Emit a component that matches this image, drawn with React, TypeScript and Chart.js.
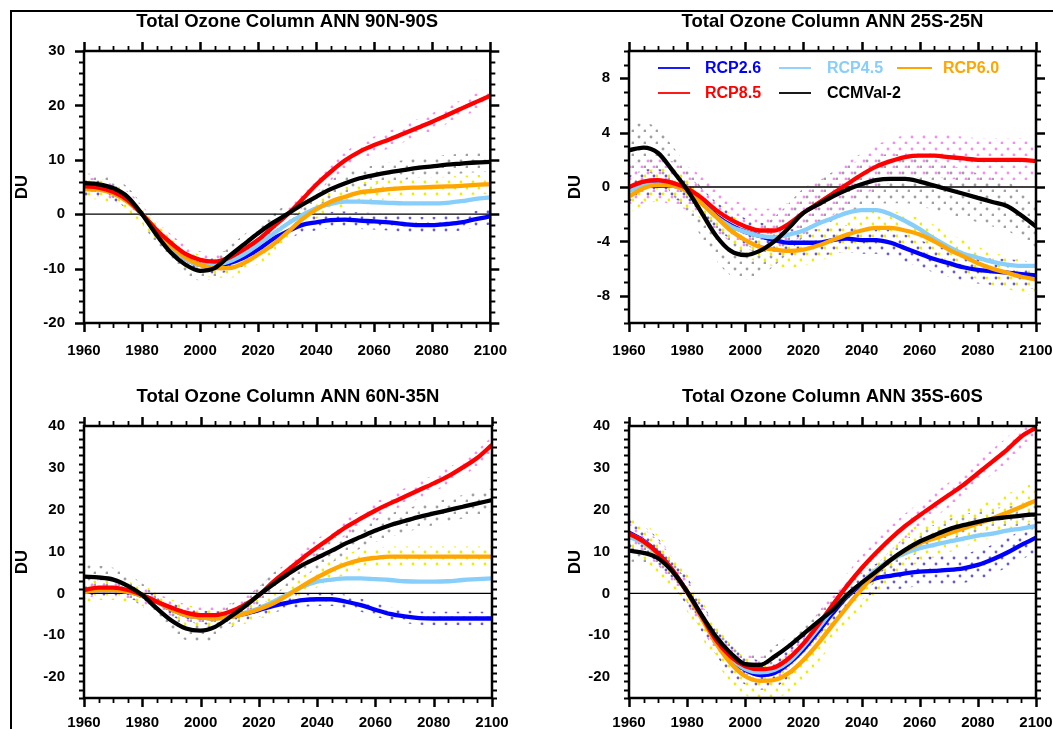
import React, { useEffect, useRef } from "react";
import { Chart, registerables } from "chart.js";
Chart.register(...registerables);

const FONT = '"Liberation Sans", Arial, Helvetica, sans-serif';

// ---------- data ----------
const years = [1960, 1965, 1970, 1975, 1980, 1985, 1990, 1995, 2000, 2005, 2010, 2015, 2020, 2025, 2030,
  2035, 2040, 2045, 2050, 2055, 2060, 2065, 2070, 2075, 2080, 2085, 2090, 2095, 2100];
const xTickLabels = [1960, 1980, 2000, 2020, 2040, 2060, 2080, 2100];

const seriesNames = ["RCP2.6", "RCP4.5", "RCP6.0", "RCP8.5", "CCMVal-2"];
const lineColors = ["#0000ff", "#87cefa", "#ffa500", "#ff0000", "#000000"];
const dotColors = ["#6a5acd", "", "#eeee00", "#f290ee", "#a0a0a0"];

// 90N-90S
const glob_rcp26 = [4.8, 4.7, 4.0, 2.4, 0, -3.0, -6.0, -8.2, -9.3, -9.5, -9.0, -8.0, -6.5, -4.6, -3.2, -2.0, -1.5, -1.1, -1.0, -1.2, -1.3, -1.5, -1.8, -2.0, -2.0, -1.8, -1.5, -0.9, -0.4];
const glob_rcp45 = [4.8, 4.7, 4.0, 2.4, 0, -3.0, -6.0, -8.2, -9.3, -9.3, -8.7, -7.4, -5.6, -3.7, -1.8, -0.2, 1.1, 1.9, 2.3, 2.3, 2.2, 2.1, 2.0, 2.0, 2.0, 2.1, 2.4, 2.8, 3.1];
const glob_rcp60 = [4.6, 4.5, 3.8, 2.3, 0, -2.9, -5.9, -8.0, -9.3, -9.9, -9.9, -9.0, -7.4, -5.6, -3.4, -1.0, 0.9, 2.3, 3.2, 4.0, 4.3, 4.6, 4.8, 4.9, 5.0, 5.1, 5.2, 5.4, 5.5];
const glob_rcp85 = [5.1, 4.9, 4.1, 2.6, 0, -2.9, -5.3, -7.3, -8.4, -8.7, -8.0, -6.5, -4.7, -2.4, -0.1, 2.6, 5.4, 7.8, 9.9, 11.5, 12.7, 13.7, 14.8, 15.9, 17.0, 18.2, 19.4, 20.6, 21.8];
const glob_ccmval = [5.7, 5.5, 4.8, 3.2, 0, -3.8, -7.1, -9.3, -10.4, -9.9, -7.7, -5.6, -3.5, -1.6, 0, 1.7, 3.2, 4.6, 5.7, 6.6, 7.2, 7.7, 8.1, 8.5, 8.8, 9.1, 9.3, 9.5, 9.6];
const glob_spread = [1.5, 0, 1.8, 1.6, 1.8];
const glob_yTicks = [-20, -10, 0, 10, 20, 30];

// 25S-25N
const trop_rcp26 = [-0.2, 0.3, 0.3, 0.1, -0.2, -1.1, -2.1, -2.8, -3.3, -3.6, -3.9, -4.1, -4.1, -4.1, -3.9, -3.8, -3.9, -3.9, -4.1, -4.5, -4.9, -5.3, -5.6, -5.9, -6.1, -6.2, -6.3, -6.4, -6.5];
const trop_rcp45 = [-0.3, 0.1, 0.2, 0.1, -0.3, -1.2, -2.2, -2.9, -3.3, -3.6, -3.7, -3.5, -3.2, -2.7, -2.3, -1.9, -1.7, -1.7, -2.0, -2.5, -3.1, -3.8, -4.4, -4.9, -5.2, -5.5, -5.7, -5.8, -5.8];
const trop_rcp60 = [-0.7, -0.1, 0.15, 0.1, -0.3, -1.2, -2.2, -3.2, -3.9, -4.4, -4.6, -4.7, -4.6, -4.3, -3.9, -3.5, -3.2, -3.0, -3.0, -3.2, -3.5, -4.0, -4.6, -5.1, -5.6, -6.0, -6.3, -6.6, -6.8];
const trop_rcp85 = [0, 0.4, 0.5, 0.3, -0.1, -0.8, -1.7, -2.4, -2.9, -3.2, -3.2, -2.7, -1.9, -1.2, -0.5, 0.2, 0.9, 1.5, 1.9, 2.2, 2.3, 2.3, 2.2, 2.1, 2.0, 2.0, 2.0, 2.0, 1.9];
const trop_ccmval = [2.7, 2.9, 2.5, 1.2, -0.2, -1.9, -3.6, -4.7, -5.0, -4.7, -4.0, -3.0, -1.9, -1.3, -0.7, -0.2, 0.2, 0.5, 0.6, 0.6, 0.4, 0.1, -0.2, -0.5, -0.8, -1.1, -1.4, -2.1, -2.9];
const trop_spread = [1.0, 0, 1.2, 1.6, 1.8];
const trop_yTicks = [-8, -4, 0, 4, 8];

// 60N-35N
const nmid_rcp26 = [0.4, 0.8, 0.8, 0.4, -0.6, -2.0, -3.8, -5.2, -5.7, -5.9, -5.6, -4.9, -4.0, -3.0, -2.2, -1.6, -1.4, -1.4, -2.0, -2.8, -3.9, -4.9, -5.5, -5.9, -6.0, -6.0, -6.0, -6.0, -6.0];
const nmid_rcp45 = [0.4, 0.8, 0.8, 0.4, -0.6, -2.0, -3.8, -5.2, -5.7, -5.9, -5.6, -4.7, -3.6, -2.0, -0.2, 1.6, 2.8, 3.3, 3.6, 3.6, 3.4, 3.2, 2.9, 2.8, 2.8, 2.9, 3.2, 3.4, 3.6];
const nmid_rcp60 = [0.4, 0.8, 0.8, 0.4, -0.6, -2.0, -3.8, -5.2, -5.7, -6.0, -5.7, -4.9, -3.8, -2.4, -0.4, 1.8, 3.8, 5.6, 7.0, 8.0, 8.5, 8.8, 8.8, 8.8, 8.8, 8.8, 8.8, 8.8, 8.8];
const nmid_rcp85 = [0.8, 1.4, 1.4, 0.8, -0.4, -2.0, -3.4, -4.6, -5.2, -5.2, -4.4, -2.8, -0.4, 2.8, 5.6, 8.4, 11.0, 13.5, 15.9, 17.9, 19.8, 21.5, 23.1, 24.7, 26.3, 28.0, 30.1, 32.4, 35.5];
const nmid_ccmval = [4.0, 3.8, 3.3, 1.8, -0.4, -3.6, -6.5, -8.4, -8.9, -8.0, -5.7, -3.2, -0.4, 2.2, 4.6, 6.8, 8.5, 10.2, 12.0, 13.5, 15.0, 16.3, 17.3, 18.3, 19.1, 19.9, 20.7, 21.5, 22.3];
const nmid_spread = [1.6, 0, 2.4, 2.0, 2.8];
const nmid_yTicks = [-20, -10, 0, 10, 20, 30, 40];

// 35S-60S
const smid_rcp26 = [14.5, 12.6, 9.6, 5.4, 0.4, -5.6, -11.3, -15.7, -18.3, -19.5, -19.0, -16.7, -13.4, -9.2, -4.8, -0.8, 2.0, 3.6, 4.2, 4.8, 5.2, 5.4, 5.6, 6.0, 6.8, 8.1, 9.7, 11.6, 13.3];
const smid_rcp45 = [13.5, 12.0, 9.3, 5.3, 0.4, -5.4, -11.2, -15.5, -18.1, -18.9, -18.3, -16.3, -12.7, -8.4, -4.0, -0.4, 2.5, 5.6, 8.0, 9.6, 10.8, 11.6, 12.4, 13.1, 13.8, 14.3, 15.0, 15.5, 16.1];
const smid_rcp60 = [14.2, 12.4, 9.4, 5.2, 0.2, -6.0, -12.0, -16.7, -19.8, -20.9, -20.7, -19.0, -15.9, -12.0, -7.6, -3.2, 1.0, 4.8, 8.0, 10.2, 12.0, 13.1, 14.3, 15.5, 16.7, 17.9, 19.3, 20.7, 22.2];
const smid_rcp85 = [14.3, 12.4, 9.6, 5.6, 0.4, -5.4, -11.2, -15.1, -17.4, -18.1, -17.7, -15.5, -12.0, -7.6, -2.8, 1.8, 6.0, 9.7, 13.1, 16.1, 18.7, 21.1, 23.5, 25.9, 28.7, 31.5, 34.3, 37.5, 39.6];
const smid_ccmval = [10.2, 9.7, 8.4, 5.2, 0.4, -5.2, -10.4, -14.3, -16.9, -17.1, -15.1, -12.6, -9.7, -6.8, -4.0, -0.4, 2.5, 5.2, 8.0, 10.4, 12.4, 13.9, 15.3, 16.3, 17.1, 17.8, 18.2, 18.6, 18.9];
const smid_spread = [3.5, 0, 4.5, 3.0, 2.5];
const smid_yTicks = [-20, -10, 0, 10, 20, 30, 40];

// ---------- layout ----------
type Panel = {
  title: string;
  values: number[][];
  spread: number[];
  yMin: number; yMax: number; yTicks: number[]; yMinor: number;
  rect: { x: number; y: number; w: number; h: number };
  area: { L: number; T: number; R: number; B: number };
  duX: number;
  xPad: number;
  legend: boolean;
};

const panels: Panel[] = [
  {
    title: "Total Ozone Column ANN 90N-90S",
    values: [glob_rcp26, glob_rcp45, glob_rcp60, glob_rcp85, glob_ccmval], spread: glob_spread,
    yMin: -20, yMax: 30, yTicks: glob_yTicks, yMinor: 2,
    rect: { x: 0, y: 0, w: 526, h: 370 }, area: { L: 84, T: 51, R: 492, B: 323 }, duX: 22, xPad: 19, legend: false,
  },
  {
    title: "Total Ozone Column ANN 25S-25N",
    values: [trop_rcp26, trop_rcp45, trop_rcp60, trop_rcp85, trop_ccmval], spread: trop_spread,
    yMin: -10, yMax: 10, yTicks: trop_yTicks, yMinor: 1,
    rect: { x: 526, y: 0, w: 560, h: 370 }, area: { L: 629, T: 51, R: 1036, B: 323 }, duX: 575, xPad: 19, legend: true,
  },
  {
    title: "Total Ozone Column ANN 60N-35N",
    values: [nmid_rcp26, nmid_rcp45, nmid_rcp60, nmid_rcp85, nmid_ccmval], spread: nmid_spread,
    yMin: -25, yMax: 40, yTicks: nmid_yTicks, yMinor: 2,
    rect: { x: 0, y: 370, w: 526, h: 380 }, area: { L: 84, T: 426, R: 492, B: 698 }, duX: 22, xPad: 16, legend: false,
  },
  {
    title: "Total Ozone Column ANN 35S-60S",
    values: [smid_rcp26, smid_rcp45, smid_rcp60, smid_rcp85, smid_ccmval], spread: smid_spread,
    yMin: -25, yMax: 40, yTicks: smid_yTicks, yMinor: 2,
    rect: { x: 526, y: 370, w: 560, h: 380 }, area: { L: 629, T: 426, R: 1036, B: 698 }, duX: 575, xPad: 16, legend: false,
  },
];

const YW = 60;
const XH = 40;
const patternOffsets = [[2, 2], [0, 0], [5, 2], [2, 5], [5, 5]];

function makePattern(color: string, ox: number, oy: number): CanvasPattern | string {
  const c = document.createElement("canvas");
  c.width = 12;
  c.height = 12;
  const g = c.getContext("2d");
  if (!g) return color;
  g.fillStyle = color;
  for (const [x, y] of [[ox, oy], [ox + 6, oy + 6]]) {
    g.beginPath();
    g.arc(x, y, 1.45, 0, Math.PI * 2);
    g.fill();
  }
  return g.createPattern(c, "repeat") || color;
}

function PanelChart({ p }: { p: Panel }) {
  const ref = useRef<HTMLCanvasElement | null>(null);
  useEffect(() => {
    if (!ref.current) return;
    const lineOrder = [4, 3, 2, 1, 0];
    const datasets: any[] = lineOrder.map((i) => ({
      label: seriesNames[i],
      data: years.map((x, k) => ({ x, y: p.values[i][k] })),
      borderColor: lineColors[i],
      borderWidth: 4.3,
      pointRadius: 0,
      fill: false,
      cubicInterpolationMode: "monotone",
    }));
    for (const i of [4, 3, 2, 0]) {
      const s = p.spread[i];
      if (!s) continue;
      datasets.push({
        label: seriesNames[i] + " low",
        data: years.map((x, k) => ({ x, y: p.values[i][k] - s })),
        borderWidth: 0, pointRadius: 0, fill: false, cubicInterpolationMode: "monotone",
      });
      datasets.push({
        label: seriesNames[i] + " high",
        data: years.map((x, k) => ({ x, y: p.values[i][k] + s })),
        borderWidth: 0, pointRadius: 0, fill: "-1", cubicInterpolationMode: "monotone",
        backgroundColor: makePattern(dotColors[i], patternOffsets[i][0], patternOffsets[i][1]),
      });
    }

    const deco = {
      id: "deco",
      beforeDatasetsDraw(chart: any) {
        const { ctx, chartArea: a, scales } = chart;
        const y0 = scales.y.getPixelForValue(0);
        ctx.save();
        ctx.strokeStyle = "#000";
        ctx.lineWidth = 1.3;
        ctx.beginPath();
        ctx.moveTo(a.left, y0);
        ctx.lineTo(a.right, y0);
        ctx.stroke();
        ctx.restore();
      },
      afterDraw(chart: any) {
        const { ctx, chartArea: a, scales } = chart;
        const xs = scales.x, ys = scales.y;
        ctx.save();
        ctx.strokeStyle = "#000";
        ctx.fillStyle = "#000";
        ctx.lineCap = "butt";
        // x ticks
        for (let k = 0; k <= 28; k++) {
          const v = 1960 + k * 5;
          const px = Math.round(xs.getPixelForValue(v)) + 0.5;
          const major = v % 20 === 0;
          const len = major ? 9 : 5;
          ctx.lineWidth = major ? 2.5 : 1.8;
          ctx.beginPath();
          ctx.moveTo(px, a.bottom); ctx.lineTo(px, a.bottom + len);
          ctx.moveTo(px, a.top); ctx.lineTo(px, a.top - len);
          ctx.stroke();
        }
        // y ticks
        const n = Math.round((p.yMax - p.yMin) / p.yMinor);
        for (let k = 0; k <= n; k++) {
          const v = p.yMin + k * p.yMinor;
          const py = Math.round(ys.getPixelForValue(v)) + 0.5;
          const major = p.yTicks.includes(v);
          const len = major ? 9 : 5;
          ctx.lineWidth = major ? 2.5 : 1.8;
          ctx.beginPath();
          ctx.moveTo(a.left, py); ctx.lineTo(a.left - len, py);
          ctx.moveTo(a.right, py); ctx.lineTo(a.right + len, py);
          ctx.stroke();
        }
        // frame
        ctx.lineWidth = 2.5;
        ctx.strokeRect(a.left, a.top, a.right - a.left, a.bottom - a.top);
        // title
        ctx.font = `bold 18.5px ${FONT}`;
        ctx.textAlign = "center";
        ctx.textBaseline = "middle";
        ctx.fillText(p.title, (a.left + a.right) / 2, a.top - 29);
        // DU
        ctx.save();
        ctx.translate(p.duX - p.rect.x, (a.top + a.bottom) / 2);
        ctx.rotate(-Math.PI / 2);
        ctx.font = `bold 16.5px ${FONT}`;
        ctx.fillText("DU", 0, 0);
        ctx.restore();
        // legend
        if (p.legend) {
          const cols = [[29, 61, 76], [150, 182, 198], [268, 303, 314]];
          const items = [[0, 0, 0], [1, 0, 1], [2, 0, 2], [3, 1, 0], [4, 1, 1]];
          ctx.font = `bold 16px ${FONT}`;
          ctx.textAlign = "left";
          ctx.textBaseline = "middle";
          for (const [si, row, col] of items) {
            const yy = a.top + 17 + row * 25;
            const c = cols[col];
            ctx.strokeStyle = lineColors[si];
            ctx.lineWidth = 1.8;
            ctx.beginPath();
            ctx.moveTo(a.left + c[0], yy);
            ctx.lineTo(a.left + c[1], yy);
            ctx.stroke();
            ctx.fillStyle = lineColors[si];
            ctx.fillText(seriesNames[si], a.left + c[2], yy + 1);
          }
        }
        ctx.restore();
      },
    };

    const chart = new Chart(ref.current, {
      type: "line",
      data: { datasets },
      options: {
        responsive: false,
        maintainAspectRatio: false,
        animation: false,
        layout: {
          padding: {
            left: p.area.L - p.rect.x - YW,
            top: p.area.T - p.rect.y,
            right: p.rect.x + p.rect.w - p.area.R,
            bottom: p.rect.y + p.rect.h - p.area.B - XH,
          },
        },
        plugins: {
          legend: { display: false },
          tooltip: { enabled: false },
          title: { display: false },
          filler: { drawTime: "beforeDatasetsDraw", propagate: false },
        },
        scales: {
          x: {
            type: "linear",
            min: 1960,
            max: 2100,
            afterBuildTicks: (s: any) => { s.ticks = xTickLabels.map((v) => ({ value: v })); },
            afterFit: (s: any) => { s.height = XH; },
            grid: { display: false, drawTicks: false },
            border: { display: false },
            ticks: {
              padding: p.xPad,
              color: "#000",
              autoSkip: false,
              maxRotation: 0,
              font: { family: FONT, size: 15, weight: "bold" },
              callback: (v: any) => String(v),
            },
          },
          y: {
            type: "linear",
            min: p.yMin,
            max: p.yMax,
            afterBuildTicks: (s: any) => { s.ticks = p.yTicks.map((v) => ({ value: v })); },
            afterFit: (s: any) => { s.width = YW; },
            grid: { display: false, drawTicks: false },
            border: { display: false },
            ticks: {
              padding: 19,
              color: "#000",
              autoSkip: false,
              font: { family: FONT, size: 15, weight: "bold" },
              callback: (v: any) => String(v),
            },
          },
        },
      } as any,
      plugins: [deco],
    });
    return () => chart.destroy();
  }, [p]);
  return (
    <canvas
      ref={ref}
      width={p.rect.w}
      height={p.rect.h}
      style={{ position: "absolute", left: p.rect.x, top: p.rect.y, width: p.rect.w, height: p.rect.h }}
    />
  );
}

export default function App() {
  return (
    <div style={{ position: "absolute", left: 0, top: 0, width: 1053, height: 729, overflow: "hidden", background: "#fff" }}>
      <div style={{ position: "absolute", left: 10, top: 10, width: 1100, height: 800, borderTop: "2px solid #000", borderLeft: "2px solid #000" }} />
      {panels.map((p, i) => (
        <PanelChart key={i} p={p} />
      ))}
    </div>
  );
}
